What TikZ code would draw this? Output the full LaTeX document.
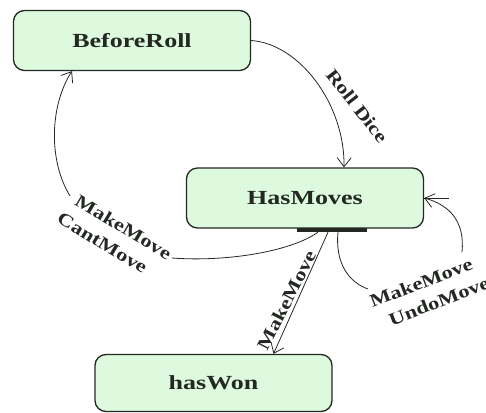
\documentclass[tikz,border=0pt]{standalone}
\usepackage{fontspec}
\setmainfont{Liberation Serif}
\newfontfamily\statefont{Liberation Serif}[FakeStretch=1.3]
\newfontfamily\labelfont{Liberation Serif}[FakeStretch=1.25]
\usetikzlibrary{arrows.meta}
\definecolor{boxfill}{RGB}{222,250,222}
\definecolor{ink}{RGB}{35,40,35}
\begin{document}
\begin{tikzpicture}[x=1pt,y=-1pt,
  state/.style={draw=ink, line width=1.3pt, fill=boxfill, rounded corners=11pt,
    minimum width=237pt, minimum height=60pt, inner sep=0pt,
    font=\statefont\fontsize{20}{24}\selectfont\bfseries, text=ink},
  lbl/.style={font=\labelfont\fontsize{18}{24}\selectfont\bfseries, text=ink, align=center, inner sep=0pt},
  conn/.style={draw=ink, line width=0.8pt},
  arr/.style={conn, -{Straight Barb[length=9pt,width=14pt]}}]
\useasboundingbox (0,0) rectangle (486,412);

\node[state] (before) at (132,40.5) {BeforeRoll};
\node[state] (has) at (305,198) {HasMoves};
\node[state, minimum height=57pt] (won) at (213.5,383) {hasWon};
\node[fill=ink, minimum width=70pt, minimum height=4pt, inner sep=0pt] (bar) at (332,230) {};

% Roll Dice
\draw[arr] (before.east) .. controls (300,44) and (345,105) .. ([xshift=39pt]has.north);
\node[lbl, rotate=-52] at (357,106) {Roll Dice};

% MakeMove / CantMove back to BeforeRoll
\coordinate (cmA) at (172,258);
\coordinate (cmB) at (70,196);
\draw[conn] ([xshift=-14pt]bar.south) .. controls (290,252) and (225,262) .. (cmA);
\draw[arr] (cmB) .. controls (48,160) and (50,105) .. ([xshift=-60pt]before.south);
\node[lbl, rotate=-31] at (113,235) {\hspace*{10pt}MakeMove\\CantMove\hspace*{10pt}};

% MakeMove to hasWon
\draw[arr] ([xshift=-4pt]bar.south) -- ([xshift=60pt]won.north);
\node[lbl, rotate=62.7] at (287,300) {MakeMove};

% self loop
\coordinate (umA) at (368,289);
\coordinate (umB) at (462,252);
\draw[conn] ([xshift=6pt]bar.south) .. controls (335,262) and (348,282) .. (umA);
\draw[arr] (umB) .. controls (465,222) and (450,205) .. (has.east);
\draw[conn] (has.east) -- ++(25,0);
\node[lbl, rotate=21] at (430,292) {MakeMove\hspace*{10pt}\\\hspace*{10pt}UndoMove};
\end{tikzpicture}
\end{document}
